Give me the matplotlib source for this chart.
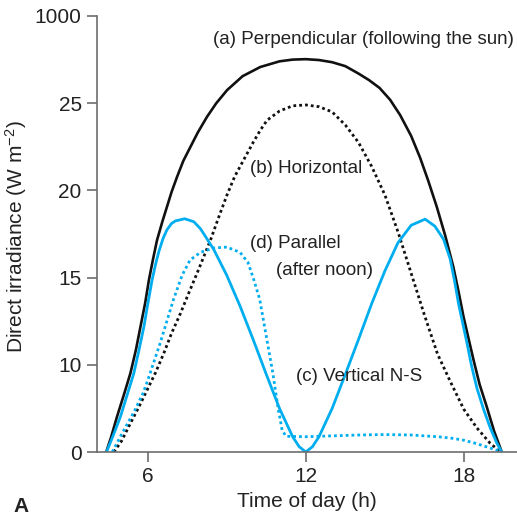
import numpy as np
import matplotlib
matplotlib.use("Agg")
import matplotlib.pyplot as plt

plt.rcParams['font.family'] = ['Liberation Sans', 'DejaVu Sans']
plt.rcParams['mathtext.default'] = 'regular'

# (a) perpendicular (following the sun)
hours_a = [4.42, 4.6, 4.83, 5.1, 5.34, 5.55, 5.72, 5.9, 6.04, 6.2, 6.35, 6.55, 6.73, 6.9, 7.11,
           7.35, 7.62, 7.9, 8.25, 8.6, 9.01, 9.6, 10.27, 11.0, 11.5, 12.0, 12.5, 13.0,
           13.5, 14.0, 14.4, 14.8, 15.2, 15.58, 16.0, 16.34, 16.65, 16.97, 17.3, 17.6,
           17.8, 17.99, 18.2, 18.37, 18.6, 18.87, 19.15, 19.44]
irr_a = [0, 33, 81, 133, 181, 235, 287, 342, 394, 443, 486, 528, 563, 596, 631,
         668, 700, 733, 769, 800, 830, 862, 883, 896, 900, 901, 899, 894,
         885, 868, 853, 835, 808, 773, 725, 675, 622, 563, 495, 425,
         368, 310, 255, 211, 155, 104, 48, 0]

# (b) horizontal
hours_b = [4.71, 5.0, 5.34, 5.65, 5.97, 6.3, 6.61, 6.9, 7.24, 7.55, 7.87, 8.38, 8.7, 9.01,
           9.3, 9.64, 10.0, 10.27, 10.53, 11.0, 11.5, 12.0, 12.5, 13.0, 13.5, 14.0,
           14.5, 15.0, 15.5, 16.0, 16.5, 17.0, 17.5, 18.0, 18.5, 19.0, 19.4]
irr_b = [0, 25, 66, 102, 142, 183, 227, 272, 318, 364, 410, 486, 540, 590,
         632, 670, 710, 738, 761, 782, 794, 796, 792, 780, 750, 710,
         655, 590, 505, 410, 315, 225, 160, 98, 55, 20, 0]

# (c) vertical N-S
hours_c = [4.43, 4.7, 4.96, 5.2, 5.47, 5.65, 5.85, 6.0, 6.16, 6.3, 6.42, 6.58, 6.73, 6.9,
           7.05, 7.4, 7.75, 8.0, 8.5, 9.0, 9.5, 10.0, 10.5, 11.0, 11.5, 11.75, 12.0,
           12.25, 12.5, 13.0, 13.5, 14.0, 14.5, 15.0, 15.5, 16.0, 16.53, 16.9, 17.23,
           17.48, 17.65, 17.8, 18.12, 18.3, 18.5, 18.75, 19.0, 19.25, 19.44]
irr_c = [0, 40, 81, 128, 181, 230, 287, 340, 394, 432, 460, 490, 510, 524,
         530, 535, 528, 512, 465, 405, 335, 258, 178, 100, 35, 12, 0,
         12, 35, 100, 178, 258, 340, 415, 480, 520, 534, 518, 488,
         443, 392, 340, 250, 196, 146, 98, 56, 21, 0]

# (d) parallel (after noon)
hours_d = [4.65, 5.0, 5.5, 5.82, 6.0, 6.47, 6.97, 7.3, 7.6, 8.0, 8.5, 9.0, 9.5, 9.8, 10.0,
           10.25, 10.5, 10.75, 10.95, 11.1, 11.25, 12.0, 13.0, 14.0, 15.0, 16.0, 17.0,
           17.5, 18.0, 18.5, 19.0, 19.45]
irr_d = [0, 40, 95, 135, 165, 250, 349, 405, 440, 458, 468, 470, 458, 435, 400,
         350, 265, 180, 100, 50, 36, 35, 37, 39, 40, 39, 35,
         32, 27, 19, 9, 0]

ytick_vals = [0, 200, 400, 600, 800, 1000]
ytick_labels = ['0', '10', '15', '20', '25', '1000']
xtick_vals = [6, 12, 18]

blue = '#00AEEF'
grey = '#6d6d6d'

fig = plt.figure(figsize=(5.17, 5.22), dpi=100)
ax = fig.add_axes([97 / 517, 1 - 452 / 522, 1 - 97 / 517, (452 - 16) / 522])

ax.plot(hours_a, irr_a, color='#111111', lw=1.9, solid_capstyle='round')
ax.plot(hours_b, irr_b, color='#111111', lw=2.0, linestyle=(0, (1, 1.1)))
ax.plot(hours_d, irr_d, color=blue, lw=2.0, linestyle=(0, (1, 1.1)))
ax.plot(hours_c, irr_c, color=blue, lw=2.0, solid_capstyle='round')

ax.set_xlim(4.07, 20.02)
ax.set_ylim(0, 1000)
ax.set_xticks(xtick_vals)
ax.set_yticks(ytick_vals)
ax.set_yticklabels(ytick_labels)

for s in ['top', 'right']:
    ax.spines[s].set_visible(False)
for s in ['left', 'bottom']:
    ax.spines[s].set_color(grey)
    ax.spines[s].set_linewidth(1.2)
ax.tick_params(colors=grey, labelcolor='#222222', length=7, width=1.2,
               labelsize=15, pad=4)

ax.set_xlabel('Time of day (h)', fontsize=15, color='#222222', labelpad=4)
ax.set_ylabel('Direct irradiance (W m$^{-2}$)', fontsize=15, color='#222222')
ax.yaxis.set_label_coords(-0.162, 0.495)

txt = dict(fontsize=13.5, color='#222222')
ax.text(14.18, 945, '(a) Perpendicular (following the sun)', ha='center', va='center', **txt)
ax.text(9.89, 651, '(b) Horizontal', ha='left', va='center', **txt)
ax.text(9.89, 479, '(d) Parallel', ha='left', va='center', **txt)
ax.text(10.87, 417, '(after noon)', ha='left', va='center', **txt)
ax.text(11.63, 174, '(c) Vertical N-S', ha='left', va='center', **txt)

fig.text(13 / 517, 1 - 507 / 522, 'A', fontsize=15, fontweight='bold', color='#222222',
         ha='left', va='center')

fig.savefig('out.png', dpi=100)
